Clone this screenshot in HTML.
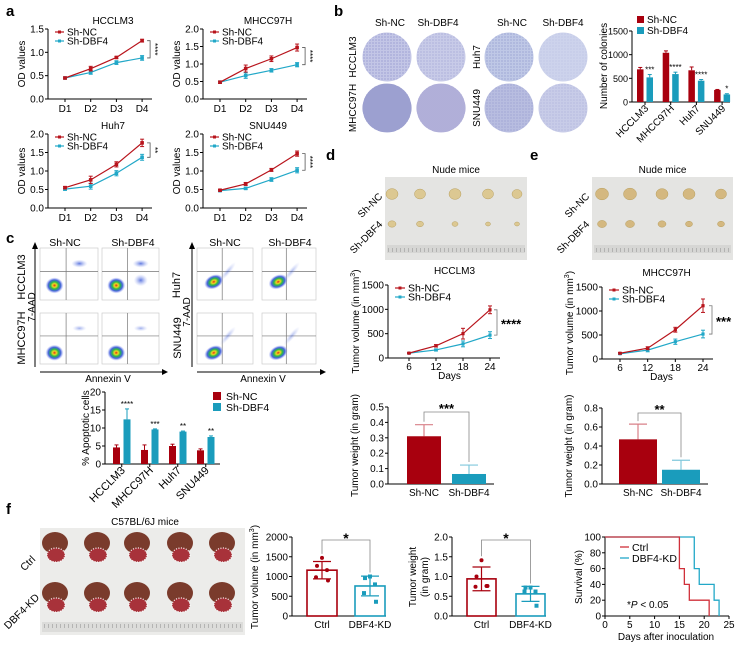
<!DOCTYPE html>
<html><head><meta charset="utf-8"><style>
body{margin:0;background:#fff}
svg{display:block;font-family:"Liberation Sans",Arial,sans-serif}
</style></head><body>
<svg id="fig" width="743" height="648" viewBox="0 0 743 648">
<defs>
<radialGradient id="flowG"><stop offset="0" stop-color="#e02818"/><stop offset="0.22" stop-color="#f0d820"/><stop offset="0.45" stop-color="#28b848"/><stop offset="0.7" stop-color="#2848d8" stop-opacity="0.85"/><stop offset="1" stop-color="#8898f0" stop-opacity="0"/></radialGradient>
<radialGradient id="faintG"><stop offset="0" stop-color="#3858d8" stop-opacity="0.8"/><stop offset="1" stop-color="#98a8f0" stop-opacity="0"/></radialGradient>
<pattern id="dots" width="3" height="3" patternUnits="userSpaceOnUse"><circle cx="1" cy="1" r="0.6" fill="#4a50a8" fill-opacity="0.55"/></pattern>
<pattern id="dots2" width="2" height="2" patternUnits="userSpaceOnUse"><circle cx="1" cy="1" r="0.6" fill="#3a3f98" fill-opacity="0.6"/></pattern>
<pattern id="ruler" width="4" height="8" patternUnits="userSpaceOnUse"><line x1="0.5" y1="0" x2="0.5" y2="4" stroke="#999" stroke-width="0.6"/></pattern>
</defs>
</svg>
<script>
// ---------- data ----------
const aDays=['D1','D2','D3','D4'];
const odHCC_NC=[0.45,0.65,0.89,1.25], odHCC_KD=[0.45,0.57,0.78,0.88];
const odHCC_NCe=[0.02,0.05,0.02,0.03], odHCC_KDe=[0.02,0.04,0.04,0.05];
const odMHC_NC=[0.48,0.87,1.15,1.47], odMHC_KD=[0.48,0.67,0.82,0.98];
const odMHC_NCe=[0.03,0.1,0.08,0.1], odMHC_KDe=[0.03,0.08,0.05,0.06];
const odHUH_NC=[0.55,0.76,1.18,1.76], odHUH_KD=[0.51,0.59,0.94,1.37];
const odHUH_NCe=[0.03,0.1,0.07,0.1], odHUH_KDe=[0.03,0.08,0.07,0.08];
const odSNU_NC=[0.48,0.65,1.03,1.47], odSNU_KD=[0.47,0.53,0.77,1.02];
const odSNU_NCe=[0.02,0.04,0.04,0.07], odSNU_KDe=[0.02,0.03,0.05,0.07];
const lines=['HCCLM3','MHCC97H','Huh7','SNU449'];
const colNC=[690,1040,670,255], colNCe=[40,40,70,10];
const colKD=[520,590,450,160], colKDe=[60,40,25,15];
const colStars=['***','****','****','*'];
const apoNC=[4.6,3.9,5.0,3.8], apoNCe=[0.7,1.4,0.5,0.4];
const apoKD=[12.4,9.6,9.0,7.5], apoKDe=[2.9,0.15,0.15,0.3];
const apoStars=['****','***','**','**'];
const days=[6,12,18,24];
const volHCC_NC=[100,250,500,990], volHCC_NCe=[10,25,110,80];
const volHCC_KD=[100,165,290,470], volHCC_KDe=[10,20,60,70];
const volMHC_NC=[120,225,610,1110], volMHC_NCe=[15,30,50,140];
const volMHC_KD=[110,185,360,520], volMHC_KDe=[15,35,55,80];
const wtHCC=[0.31,0.065], wtHCCe=[0.075,0.058];
const wtMHC=[0.47,0.15], wtMHCe=[0.16,0.10];
const fVolMean=[1160,760], fVolErr=[220,250];
const fVolCtrl=[1470,1270,1160,980,900], fVolKD=[1000,960,800,580,360];
const fWtMean=[0.94,0.56], fWtErr=[0.3,0.19];
const fWtCtrl=[1.41,1.0,0.76,0.74,0.76], fWtKD=[0.72,0.72,0.62,0.62,0.26];
const survCtrlT=[0,15,16,17,21], survCtrlV=[100,60,40,20,0];
const survKDT=[0,18,19,22,23], survKDV=[100,60,40,20,0];

// ---------- helpers ----------
const NS='http://www.w3.org/2000/svg', svg=document.getElementById('fig');
const RED='#b8141c', BLUE='#22a8c8', BRED='#a8000e', BTEAL='#1a9cbc';
function mk(tag,a,p){const e=document.createElementNS(NS,tag);for(const k in a)e.setAttribute(k,a[k]);(p||svg).appendChild(e);return e;}
function tx(x,y,s,a,p){const e=mk('text',Object.assign({x:x,y:y,'font-size':10},a||{}),p);e.textContent=s;return e;}
function grp(name){const g=mk('g',{});return g;}
function rot(x,y,s,sz,p,anchor){return tx(x,y,s,{'font-size':sz,'text-anchor':anchor||'middle',transform:`rotate(-90 ${x} ${y})`},p);}
function L(x1,y1,x2,y2,p,c,w){return mk('line',{x1,y1,x2,y2,stroke:c||'#000','stroke-width':w||1},p);}
function errbar(x,y1,y2,c,p){L(x,y1,x,y2,p,c,1);L(x-2,y1,x+2,y1,p,c,1);}

// panel letters
[['a',6,16],['b',334,16],['c',6,243],['d',326,160],['e',530,160],['f',6,514]].forEach(([s,x,y])=>{
  const t=tx(x,y,s,{'font-size':15,'font-weight':'bold'});
  
  
});

// ---------- panel a ----------
function odChart(name,ox,top,bot,title,yMax,nc,nce,kd,kde,stars){
  const g=grp(name);
  const xs=i=>ox+17+i*25.7, ys=v=>bot-v/yMax*(bot-top);
  L(ox,top,ox,bot,g);L(ox,bot,ox+104,bot,g);
  for(let t=0;t<=yMax+1e-9;t+=0.5){L(ox-3,ys(t),ox,ys(t),g);tx(ox-4,ys(t)+3.5,t.toFixed(1),{'text-anchor':'end'},g);}
  aDays.forEach((d,i)=>{L(xs(i),bot,xs(i),bot+3,g);const t=tx(xs(i),bot+13,d,{'text-anchor':'middle'},g);});
  tx(ox+65,top-5,title,{'text-anchor':'middle'},g);
  rot(ox-23,(top+bot)/2,'OD values',10,g);
  [[kd,kde,BLUE,'series-sh-dbf4'],[nc,nce,RED,'series-sh-nc']].forEach(([v,e,c,n])=>{
    const pl=mk('polyline',{points:v.map((y,i)=>xs(i)+','+ys(y)).join(' '),fill:'none',stroke:c,'stroke-width':1.2},g);
    
    
    v.forEach((y,i)=>{errbar(xs(i),ys(y+e[i]),ys(y-e[i]),c,g);L(xs(i)-2,ys(y-e[i]),xs(i)+2,ys(y-e[i]),g,c);mk('rect',{x:xs(i)-1.8,y:ys(y)-1.8,width:3.6,height:3.6,fill:c},g);});
  });
  const lg=grp('legend');g.appendChild(lg);
  [[RED,'Sh-NC',top+3],[BLUE,'Sh-DBF4',top+12]].forEach(([c,s,y])=>{L(ox+7,y,ox+16,y,lg,c,1.2);mk('rect',{x:ox+10,y:y-1.5,width:3,height:3,fill:c},lg);tx(ox+19,y+3.5,s,{},lg);});
  const bx=xs(3)+8, y1=ys(nc[3]), y2=ys(kd[3]);
  mk('path',{d:`M${bx-3} ${y1}H${bx}V${y2}H${bx-3}`,fill:'none',stroke:'#555','stroke-width':0.8},g);
  const st=tx(bx+2,(y1+y2)/2,stars,{'font-size':8,'text-anchor':'middle',transform:`rotate(90 ${bx+2} ${(y1+y2)/2})`},g);
  
}
odChart('od-chart-hcclm3',48,29,99,'HCCLM3',1.5,odHCC_NC,odHCC_NCe,odHCC_KD,odHCC_KDe,'****');
odChart('od-chart-mhcc97h',203,29,99,'MHCC97H',2.0,odMHC_NC,odMHC_NCe,odMHC_KD,odMHC_KDe,'****');
odChart('od-chart-huh7',48,134,208,'Huh7',2.0,odHUH_NC,odHUH_NCe,odHUH_KD,odHUH_KDe,'**');
odChart('od-chart-snu449',203,134,208,'SNU449',2.0,odSNU_NC,odSNU_NCe,odSNU_KD,odSNU_KDe,'****');

// ---------- panel b plates ----------
(function(){
  const g=grp('colony-plates');
  [['Sh-NC',390],['Sh-DBF4',438],['Sh-NC',512],['Sh-DBF4',563]].forEach(([s,x])=>tx(x,26,s,{'text-anchor':'middle'},g));
  rot(356,57,'HCCLM3',10,g);rot(356,108,'MHCC97H',10,g);rot(480,57,'Huh7',10,g);rot(480,108,'SNU449',10,g);
  const plates=[[387,57,'#c3c6e6','dots',0.9],[441,57,'#c8cbe8','dots',0.6],[387,108,'#b0b3dc','dots2',1],[441,108,'#c2bfe2','dots2',0.75],
                [509,57,'#bfc8e6','dots',0.8],[563,57,'#cdd3ec','dots',0.25],[509,108,'#b8bde0','dots',0.6],[563,108,'#c8cce8','dots',0.4]];
  plates.forEach(([x,y,f,p,o])=>{const c=mk('circle',{cx:x,cy:y,r:24.5,fill:f},g);mk('circle',{cx:x,cy:y,r:24.5,fill:`url(#${p})`,'fill-opacity':o},g);});
})();

// ---------- grouped bar chart helper ----------
function groupBar(name,ox,top,bot,xEnd,yMax,step,x0,gap,bw,off,nc,nce,kd,kde,stars,fs){
  const g=grp(name);
  const ys=v=>bot-v/yMax*(bot-top);
  L(ox,top,ox,bot,g);L(ox,bot,xEnd,bot,g);
  for(let t=0;t<=yMax;t+=step){L(ox-3,ys(t),ox,ys(t),g);tx(ox-4,ys(t)+3.5,String(t),{'text-anchor':'end','font-size':fs},g);}
  lines.forEach((s,i)=>{
    const xr=x0+gap*i, xb=xr+off;
    errbar(xr+bw/2,ys(nc[i]+nce[i]),ys(nc[i]),BRED,g);
    const r=mk('rect',{x:xr,y:ys(nc[i]),width:bw,height:bot-ys(nc[i]),fill:BRED},g);
    
    
    errbar(xb+bw/2,ys(kd[i]+kde[i]),ys(kd[i]),BTEAL,g);
    const b=mk('rect',{x:xb,y:ys(kd[i]),width:bw,height:bot-ys(kd[i]),fill:BTEAL},g);
    
    
    tx(xb+bw/2,ys(kd[i]+kde[i])-2,stars[i],{'text-anchor':'middle','font-size':8},g);
    const cx=(xr+xb+bw)/2;
    L(cx,bot,cx,bot+3,g);
    tx(cx+4,bot+7,s,{'text-anchor':'end','font-size':fs+1,transform:`rotate(-45 ${cx+4} ${bot+7})`},g);
  });
  return g;
}
(function(){
  const g=groupBar('colony-bar-chart',632,31,102,730,1500,500,637,25.7,6.5,9.5,colNC,colNCe,colKD,colKDe,colStars,9);
  rot(607,66,'Number of colonies',10,g);
  [[BRED,'Sh-NC',20],[BTEAL,'Sh-DBF4',31]].forEach(([c,s,y])=>{mk('rect',{x:637,y:y-4,width:7,height:7,fill:c},g);tx(647,y+3,s,{},g);});
})();

// ---------- panel c flow ----------
(function(){
  const g=grp('flow-cytometry');
  [['Sh-NC',65],['Sh-DBF4',133],['Sh-NC',225],['Sh-DBF4',290]].forEach(([s,x])=>tx(x,246,s,{'text-anchor':'middle','font-size':10.5},g));
  const cols=[[40,58],[102,57],[197,56],[262,54]], rows=[[248,52],[313,51]];
  rows.forEach(([y,h],ri)=>cols.forEach(([x,w],ci)=>{
    const r=mk('rect',{x,y,width:w,height:h,fill:'#fff',stroke:'#ccc','stroke-width':0.7},g);
    
    
    L(x+w*0.45,y,x+w*0.45,y+h,g,'#777',0.7);L(x,y+h*0.45,x+w,y+h*0.45,g,'#777',0.7);
    const right=ci>=2;
    const bx=x+w*(right?0.3:0.25), by=y+h*(ri==0?(right?0.65:0.72):0.78);
    mk('ellipse',{cx:bx,cy:by,rx:right?10:9,ry:right?7:8,fill:'url(#flowG)',transform:right?`rotate(-25 ${bx} ${by})`:''},g);
    if(!right&&ri==0){mk('ellipse',{cx:x+w*0.68,cy:y+h*0.3,rx:8,ry:4,fill:'url(#faintG)'},g);if(ci==1)mk('ellipse',{cx:x+w*0.68,cy:y+h*0.62,rx:7,ry:6,fill:'url(#faintG)'},g);}
    if(!right&&ri==1)mk('ellipse',{cx:x+w*0.68,cy:y+h*0.3,rx:7,ry:3,fill:'url(#faintG)','fill-opacity':0.6},g);
    if(right)mk('ellipse',{cx:x+w*0.55,cy:y+h*0.45,rx:12,ry:3,fill:'url(#faintG)','fill-opacity':0.5,transform:`rotate(-50 ${x+w*0.55} ${y+h*0.45})`},g);
  }));
  [[35,40,168],[192,197,326]].forEach(([ax,hx1,hx2])=>{
    L(ax,367,ax,247,g,'#000',1);mk('path',{d:`M${ax-3} 249L${ax} 242L${ax+3} 249Z`,fill:'#000'},g);
    L(hx1,372,hx2-5,372,g,'#000',1);mk('path',{d:`M${hx2-6} 369L${hx2} 372L${hx2-6} 375Z`,fill:'#000'},g);
  });
  tx(108,382,'Annexin V',{'text-anchor':'middle','font-size':10},g);tx(263,382,'Annexin V',{'text-anchor':'middle','font-size':10},g);
  rot(25,277,'HCCLM3',11,g);rot(35,307,'7-AAD',10,g);rot(25,338,'MHCC97H',11,g);
  rot(180,285,'Huh7',11,g);rot(190,312,'7-AAD',10,g);rot(181,338,'SNU449',11,g);
})();
(function(){
  const g=groupBar('apoptosis-bar-chart',105,392,464,220,20,5,113,28,7,10.5,apoNC,apoNCe,apoKD,apoKDe,apoStars,10);
  rot(89,428,'% Apoptotic cells',10,g);
  [[BRED,'Sh-NC',397],[BTEAL,'Sh-DBF4',408]].forEach(([c,s,y])=>{mk('rect',{x:213,y:y-5,width:8,height:8,fill:c},g);tx(226,y+3,s,{'font-size':10.5},g);});
})();

// ---------- panel d/e photos ----------
function tumorPhoto(name,x,y,w,cxs,r1,r2,fill){
  const g=grp(name);
  tx(x+w/2,173,'Nude mice',{'text-anchor':'middle'},g);
  mk('rect',{x,y,width:w,height:83,fill:'#e4e4e2'},g);
  mk('rect',{x:x+2,y:y+68,width:w-4,height:8,fill:'#d6d6d4'},g);
  mk('rect',{x:x+2,y:y+68,width:w-4,height:8,fill:'url(#ruler)'},g);
  cxs.forEach((cx,i)=>{
    const t=mk('ellipse',{cx,cy:y+17,rx:r1[i],ry:r1[i]*0.9,fill:fill,stroke:'#b8a060','stroke-width':0.5},g);
    
    mk('ellipse',{cx,cy:y+47,rx:r2[i],ry:r2[i]*0.8,fill:fill,stroke:'#b8a060','stroke-width':0.5},g);
  });
  tx(x-2,y+20,'Sh-NC',{'text-anchor':'end','font-size':10,transform:`rotate(-45 ${x-2} ${y+20})`},g);
  tx(x-2,y+48,'Sh-DBF4',{'text-anchor':'end','font-size':10,transform:`rotate(-45 ${x-2} ${y+48})`},g);
}
tumorPhoto('tumor-photo-hcclm3',385,177,142,[392,420,455,488,517],[6,5.5,6,5.5,5],[4,3.5,3,2.5,2.5],'#dcc892');
tumorPhoto('tumor-photo-mhcc97h',592,177,141,[602,630,662,689,721],[6.5,6.5,6,6,5.5],[4.5,4.5,4,3.5,3.5],'#d4b880');

// ---------- volume charts ----------
function volChart(name,ox,top,bot,x6,x24,title,nc,nce,kd,kde,stars,bx){
  const g=grp(name);
  const xs=d=>x6+(d-6)/18*(x24-x6), ys=v=>bot-v/1500*(bot-top);
  L(ox,top,ox,bot,g);L(ox,bot,x24+10,bot,g);
  for(let t=0;t<=1500;t+=500){L(ox-3,ys(t),ox,ys(t),g);tx(ox-4,ys(t)+3.5,String(t),{'text-anchor':'end','font-size':10},g);}
  days.forEach(d=>{L(xs(d),bot,xs(d),bot+3,g);tx(xs(d),bot+12,String(d),{'text-anchor':'middle','font-size':10},g);});
  tx((x6+x24)/2,bot+21,'Days',{'text-anchor':'middle','font-size':10},g);
  tx((x6+x24)/2+5,top-11,title,{'text-anchor':'middle','font-size':10},g);
  const yt=rot(ox-29,(top+bot)/2,'Tumor volume (in mm',10,g);const sp=mk('tspan',{'font-size':7,dy:-4},yt);sp.textContent='3';const sp2=mk('tspan',{dy:4},yt);sp2.textContent=')';
  [[kd,kde,BLUE,'series-sh-dbf4'],[nc,nce,RED,'series-sh-nc']].forEach(([v,e,c,n])=>{
    const pl=mk('polyline',{points:v.map((y,i)=>xs(days[i])+','+ys(y)).join(' '),fill:'none',stroke:c,'stroke-width':1.2},g);
    
    
    v.forEach((y,i)=>{const x=xs(days[i]);errbar(x,ys(y+e[i]),ys(y-e[i]),c,g);L(x-2,ys(y-e[i]),x+2,ys(y-e[i]),g,c);mk('rect',{x:x-1.6,y:ys(y)-1.6,width:3.2,height:3.2,fill:c},g);});
  });
  [[RED,'Sh-NC',top+3],[BLUE,'Sh-DBF4',top+12]].forEach(([c,s,y])=>{L(ox+7,y,ox+17,y,g,c,1.2);mk('rect',{x:ox+10.5,y:y-1.5,width:3,height:3,fill:c},g);tx(ox+20,y+3.5,s,{'font-size':10.5},g);});
  const y1=ys(nc[3]),y2=ys(kd[3]);
  mk('path',{d:`M${bx-3} ${y1}H${bx}V${y2}H${bx-3}`,fill:'none',stroke:'#777','stroke-width':0.8},g);
  tx(bx+4,(y1+y2)/2+6,stars,{'font-size':13,'font-weight':'bold'},g);
}
volChart('tumor-volume-chart-hcclm3',388,285,358,409,490,'HCCLM3',volHCC_NC,volHCC_NCe,volHCC_KD,volHCC_KDe,'****',497);
volChart('tumor-volume-chart-mhcc97h',602,287,359,620,703,'MHCC97H',volMHC_NC,volMHC_NCe,volMHC_KD,volMHC_KDe,'***',712);

// ---------- weight bar charts ----------
function wtChart(name,ox,top,bot,yMax,step,dec,vals,errs,stars,rx,bx,bw){
  const g=grp(name);
  const ys=v=>bot-v/yMax*(bot-top);
  L(ox,top,ox,bot,g);L(ox,bot,ox+106,bot,g);
  for(let t=0;t<=yMax+1e-9;t+=step){L(ox-3,ys(t),ox,ys(t),g);tx(ox-4,ys(t)+3.5,t.toFixed(dec),{'text-anchor':'end','font-size':10},g);}
  const xsB=[ox+rx,ox+bx], cs=[BRED,BTEAL], nm=['Sh-NC','Sh-DBF4'];
  vals.forEach((v,i)=>{
    const lc=i==0?'#d88088':'#80c8dc';
    L(xsB[i]+bw/2,ys(v+errs[i]),xsB[i]+bw/2,ys(v),g,lc,1.2);L(xsB[i]+bw/2-9,ys(v+errs[i]),xsB[i]+bw/2+9,ys(v+errs[i]),g,lc,1.2);
    const r=mk('rect',{x:xsB[i],y:ys(v),width:bw,height:bot-ys(v),fill:cs[i]},g);
    
    
    tx(xsB[i]+bw/2,bot+12,nm[i],{'text-anchor':'middle','font-size':10},g);
  });
  const c1=xsB[0]+bw/2,c2=xsB[1]+bw/2,yb=top+5;
  mk('path',{d:`M${c1} ${ys(vals[0]+errs[0])-3}V${yb}H${c2}V${ys(vals[1]+errs[1])-3}`,fill:'none',stroke:'#888','stroke-width':0.8},g);
  tx((c1+c2)/2,yb+1,stars,{'text-anchor':'middle','font-size':13,'font-weight':'bold'},g);
  rot(ox-30,(top+bot)/2,'Tumor weight (in gram)',10,g);
}
wtChart('tumor-weight-chart-hcclm3',388,407,484,0.5,0.1,1,wtHCC,wtHCCe,'***',19,64,34);
wtChart('tumor-weight-chart-mhcc97h',602,408,484,0.8,0.2,1,wtMHC,wtMHCe,'**',17,60,38);

// ---------- panel f photo ----------
(function(){
  const g=grp('liver-photo');
  tx(145,525,'C57BL/6J mice',{'text-anchor':'middle','font-size':10},g);
  mk('rect',{x:40,y:528,width:205,height:107,fill:'#ececea'},g);
  mk('rect',{x:42,y:622,width:201,height:10,fill:'#dcdcda'},g);
  mk('rect',{x:42,y:622,width:201,height:10,fill:'url(#ruler)'},g);
  [55,97,137,180,222].forEach(cx=>[547,597].forEach(cy=>{
    const l=mk('ellipse',{cx,cy:cy-4,rx:13,ry:11,fill:'#7a3b2c'},g);
    
    mk('ellipse',{cx:cx+1,cy:cy+8,rx:9,ry:7,fill:'#a8323a',stroke:'#fff','stroke-width':1.2,'stroke-dasharray':'1 1.5'},g);
  }));
  tx(36,560,'Ctrl',{'text-anchor':'end','font-size':10.5,transform:'rotate(-45 36 560)'},g);
  tx(40,598,'DBF4-KD',{'text-anchor':'end','font-size':10.5,transform:'rotate(-45 40 598)'},g);
})();

// ---------- panel f charts ----------
function fBar(name,ox,top,bot,yMax,step,dec,mean,err,ctrl,kd,bxs,bw){
  const g=grp(name);
  const ys=v=>bot-v/yMax*(bot-top);
  L(ox,top,ox,bot,g);L(ox,bot,bxs[1]+bw+1,bot,g);
  for(let t=0;t<=yMax+1e-9;t+=step){L(ox-3,ys(t),ox,ys(t),g);tx(ox-4,ys(t)+3.5,t.toFixed(dec),{'text-anchor':'end','font-size':10},g);}
  const cs=[BRED,BTEAL], nm=['Ctrl','DBF4-KD'], pts=[ctrl,kd];
  mean.forEach((m,i)=>{
    const r=mk('rect',{x:bxs[i],y:ys(m),width:bw,height:bot-ys(m),fill:'none',stroke:cs[i],'stroke-width':1.6},g);
    
    
    const cx=bxs[i]+bw/2;
    L(cx,ys(m+err[i]),cx,ys(m-err[i]),g,cs[i],1.2);L(cx-9,ys(m+err[i]),cx+9,ys(m+err[i]),g,cs[i],1.2);L(cx-9,ys(m-err[i]),cx+9,ys(m-err[i]),g,cs[i],1.2);
    const offs=[0,-5,5,-6,6];
    pts[i].forEach((v,j)=>{const p=mk(i==0?'circle':'rect',i==0?{cx:cx+offs[j],cy:ys(v),r:2,fill:cs[i]}:{x:cx+offs[j]-2,y:ys(v)-2,width:4,height:4,fill:cs[i]},g);});
    tx(cx,bot+12,nm[i],{'text-anchor':'middle','font-size':10},g);
  });
  const c1=bxs[0]+bw/2,c2=bxs[1]+bw/2,yb=top+3;
  mk('path',{d:`M${c1} ${ys(Math.max(...ctrl))-4}V${yb}H${c2}V${ys(Math.max(...kd))-4}`,fill:'none',stroke:'#888','stroke-width':0.8},g);
  tx((c1+c2)/2,yb+3,'*',{'text-anchor':'middle','font-size':14,'font-weight':'bold'},g);
  return g;
}
(function(){
  const g=fBar('f-tumor-volume-chart',292,537,616,2000,500,0,fVolMean,fVolErr,fVolCtrl,fVolKD,[307,355],30);
  const yt=rot(258,577,'Tumor volume (in mm',10,g);const sp=mk('tspan',{'font-size':7,dy:-4},yt);sp.textContent='3';const sp2=mk('tspan',{dy:4},yt);sp2.textContent=')';
  const g2=fBar('f-tumor-weight-chart',452,537,616,2.0,0.5,1,fWtMean,fWtErr,fWtCtrl,fWtKD,[467,516],29);
  rot(416,577,'Tumor weight',10,g2);rot(428,577,'(in gram)',10,g2);
})();
(function(){
  const g=grp('survival-chart');
  const ox=605,top=537,bot=616,xr=729;
  const xs=d=>ox+d/25*(xr-ox), ys=v=>bot-v/100*(bot-top);
  L(ox,top,ox,bot,g);L(ox,bot,xr,bot,g);
  for(let t=0;t<=100;t+=20){L(ox-3,ys(t),ox,ys(t),g);tx(ox-4,ys(t)+3.5,String(t),{'text-anchor':'end','font-size':10},g);}
  for(let d=0;d<=25;d+=5){L(xs(d),bot,xs(d),bot+3,g);tx(xs(d),bot+12,String(d),{'text-anchor':'middle','font-size':10},g);}
  tx(666,640,'Days after inoculation',{'text-anchor':'middle','font-size':10},g);
  rot(582,577,'Survival (%)',10,g);
  [[survKDT,survKDV,BLUE,'survival-dbf4-kd'],[survCtrlT,survCtrlV,'#d0303a','survival-ctrl']].forEach(([T,V,c,n])=>{
    let d=`M${xs(T[0])} ${ys(V[0])}`;
    for(let i=1;i<T.length;i++){d+=`H${xs(T[i])}V${ys(V[i])}`;}
    const p=mk('path',{d,fill:'none',stroke:c,'stroke-width':1.3},g);
    
    
  });
  [['#d0303a','Ctrl',547],[BLUE,'DBF4-KD',558]].forEach(([c,s,y])=>{L(620,y,629,y,g,c,1.3);tx(632,y+4,s,{'font-size':10.5},g);});
  const t=tx(627,608,'*',{'font-size':10},g);
  const i1=mk('tspan',{'font-style':'italic'},t);i1.textContent='P';
  const i2=mk('tspan',{},t);i2.textContent=' < 0.05';
})();
</script>
</body></html>
